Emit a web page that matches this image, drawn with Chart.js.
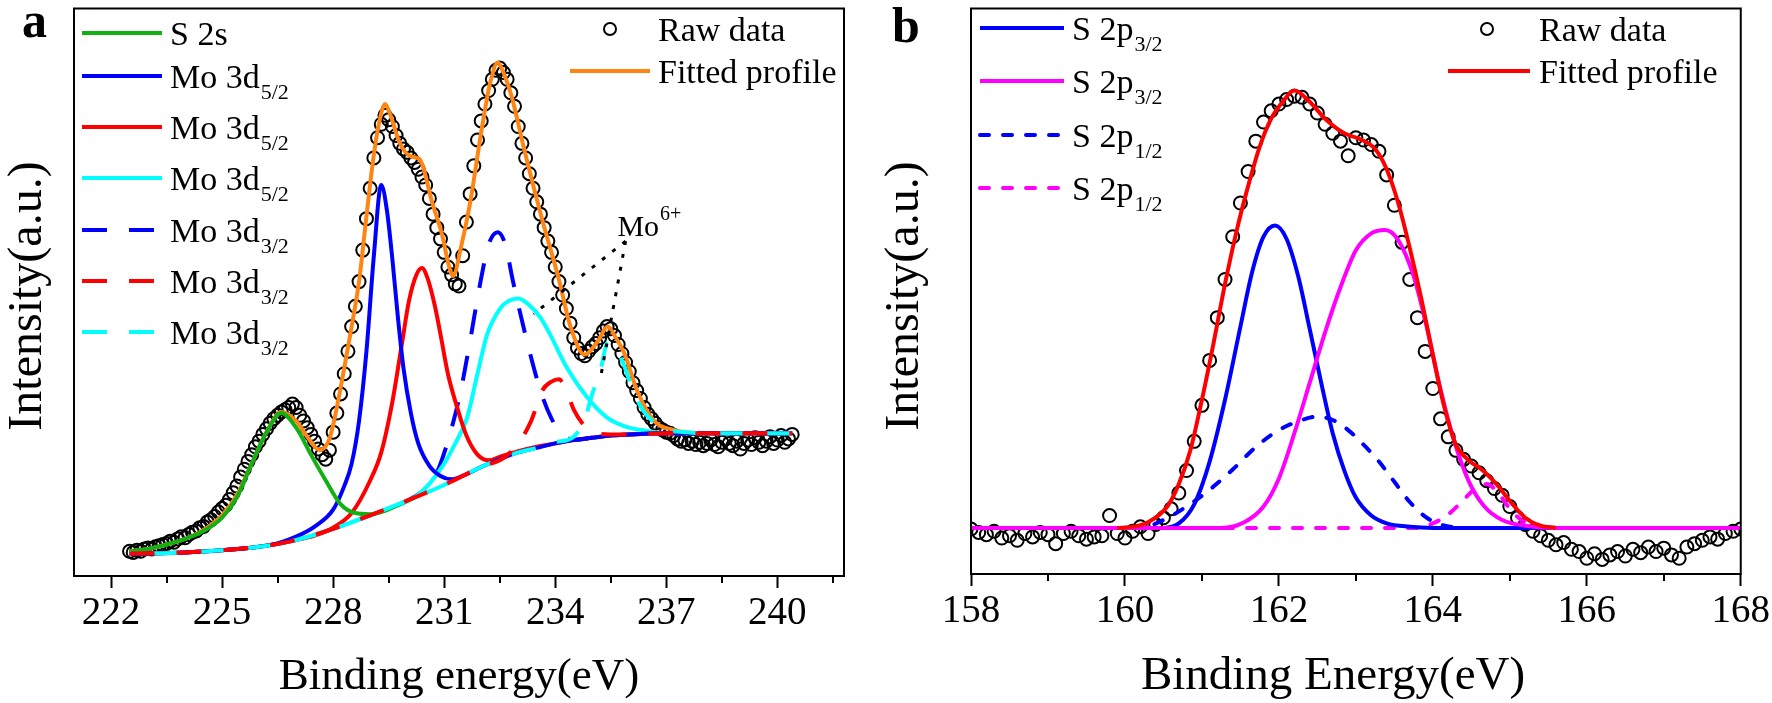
<!DOCTYPE html>
<html>
<head>
<meta charset="utf-8">
<script src="https://cdn.jsdelivr.net/npm/chart.js@4.4.1/dist/chart.umd.min.js"></script>
<style>
  html, body { margin: 0; padding: 0; background: #fff; }
  body { width: 1772px; height: 703px; position: relative; overflow: hidden; }
  canvas { position: absolute; top: 0; }
  #chartA { left: 0; }
  #chartB { left: 870px; }
</style>
</head>
<body>
<canvas id="chartA" width="870" height="703"></canvas>
<canvas id="chartB" width="902" height="703"></canvas>
<script>
const FONT = '"Liberation Serif", "Times New Roman", serif';

// ---------- panel a : Mo 3d / S 2s ----------
const tickA = [222, 225, 228, 231, 234, 237, 240];
const minorTickA = [223.5, 226.5, 229.5, 232.5, 235.5, 238.5, 241.5];
const xTitleA = 'Binding energy(eV)';

const rawAEnergy = [
  222.5,222.6,222.7,222.8,222.9,223.0,223.1,223.2,223.3,223.4,
  223.5,223.6,223.7,223.8,223.9,224.0,224.1,224.2,224.3,224.4,
  224.5,224.6,224.7,224.8,224.9,225.0,225.1,225.2,225.3,225.4,
  225.5,225.6,225.7,225.8,225.9,226.0,226.1,226.2,226.3,226.4,
  226.5,226.6,226.7,226.8,226.9,227.0,227.1,227.2,227.3,227.4,
  227.5,227.6,227.7,227.8,227.9,228.0,228.1,228.2,228.3,228.4,
  228.5,228.6,228.7,228.8,228.9,229.0,229.1,229.2,229.3,229.4,
  229.5,229.6,229.7,229.8,229.9,230.0,230.1,230.2,230.3,230.4,
  230.5,230.6,230.7,230.8,230.9,231.0,231.1,231.2,231.3,231.4,
  231.5,231.6,231.7,231.8,231.9,232.0,232.1,232.2,232.3,232.4,
  232.5,232.6,232.7,232.8,232.9,233.0,233.1,233.2,233.3,233.4,
  233.5,233.6,233.7,233.8,233.9,234.0,234.1,234.2,234.3,234.4,
  234.5,234.6,234.7,234.8,234.9,235.0,235.1,235.2,235.3,235.4,
  235.5,235.6,235.7,235.8,235.9,236.0,236.1,236.2,236.3,236.4,
  236.5,236.6,236.7,236.8,236.9,237.0,237.1,237.2,237.3,237.4,
  237.5,237.6,237.7,237.8,237.9,238.0,238.1,238.2,238.3,238.4,
  238.5,238.6,238.7,238.8,238.9,239.0,239.1,239.2,239.3,239.4,
  239.5,239.6,239.7,239.8,239.9,240.0,240.1,240.2,240.3,240.4
];
const rawACounts = [
  22,21,23,22,24,25,24,26,27,28,
  29,31,30,33,35,34,37,39,40,43,
  44,48,50,53,57,60,63,68,74,80,
  88,95,102,108,115,120,126,131,136,140,
  143,146,148,150,153,150,143,138,132,126,
  120,113,108,104,112,128,145,162,180,200,
  222,240,262,290,318,345,372,390,402,410,
  406,400,392,385,380,377,372,368,362,355,
  348,336,322,310,300,288,275,268,260,258,
  285,315,340,365,388,405,420,432,442,450,
  452,448,442,430,418,400,385,372,358,345,
  333,322,310,298,288,275,262,250,238,225,
  212,203,198,196,200,204,207,212,218,222,
  220,214,206,198,190,182,172,165,158,150,
  144,140,136,132,130,128,127,125,122,120,
  121,118,120,117,119,116,118,121,117,115,
  119,122,118,116,120,113,118,121,117,123,
  119,116,120,124,118,121,125,119,122,126
];

const fitA = [[222.5,22],[223,24],[223.5,28],[224,33],[224.5,41],[225,54],[225.4,72],[225.8,100],[226.2,128],[226.6,146],[227.0,138],[227.3,124],[227.64,112],[227.9,122],[228.1,150],[228.3,185],[228.5,222],[228.7,262],[228.9,320],[229.1,375],[229.3,412],[229.4,420],[229.55,410],[229.79,386],[230.06,374],[230.33,371],[230.42,365],[230.67,333],[230.94,304],[231.12,277],[231.24,267],[231.45,292],[231.7,332],[232.03,401],[232.25,440],[232.45,457],[232.6,448],[232.82,427],[233.18,377],[233.64,318],[234.09,265],[234.42,221],[234.79,197],[235.15,209],[235.42,222],[235.6,214],[235.88,197],[236.21,165],[236.67,138],[237.2,130],[238,127],[240.4,127]];
const s2sA = [[222.5,22],[223,24],[223.5,28],[224,33],[224.5,40],[225,52],[225.4,70],[225.8,100],[226.2,128],[226.6,145],[227.0,132],[227.4,108],[227.8,85],[228.2,64],[228.6,56],[229.0,55],[229.4,58],[229.8,64],[230.2,70]];
const mo52BlueA = [[222.5,20],[224,21],[225,23],[226,26],[226.5,29],[227,35],[227.5,44],[228,59],[228.3,80],[228.5,100],[228.7,138],[228.9,200],[229.1,285],[229.3,348],[229.45,326],[229.6,282],[229.75,230],[229.9,185],[230.1,145],[230.3,118],[230.6,98],[230.9,89],[231.2,86],[231.5,89],[232,97],[232.5,104],[233,110],[233.5,114],[234,118],[234.5,121],[235,123],[235.5,125],[236,126],[237,127],[240.4,127]];
const mo52RedA = [[222.5,20],[224,21],[225,23],[226,26],[227,32],[227.5,36],[228,43],[228.5,56],[229.0,85],[229.3,110],[229.6,155],[229.85,205],[230.05,245],[230.25,268],[230.4,274],[230.55,265],[230.75,240],[230.9,215],[231.1,180],[231.35,150],[231.6,125],[231.9,108],[232.2,103],[232.5,106],[233,111],[233.5,115],[234,118],[234.5,121],[235,123],[235.5,125],[236,126],[237,127],[240.4,127]];
const mo52CyanA = [[222.5,20],[224,21],[225,23],[226,26],[227,32],[228,42],[229,54],[229.6,61],[230.2,70],[230.6,82],[231.0,100],[231.3,118],[231.62,141],[231.9,180],[232.16,215],[232.51,238],[232.75,245],[233.0,247],[233.3,241],[233.6,230],[233.86,215],[234.32,185],[234.86,159],[235.4,141],[235.9,133],[236.5,129],[237,127],[240.4,127]];
const mo32BlueA = [[222.5,20],[224,21],[225,23],[226,26],[227,32],[228,42],[229,54],[229.5,60],[230,67],[230.5,78],[230.8,92],[231.1,120],[231.43,162],[231.65,200],[231.97,260],[232.2,295],[232.45,306],[232.65,295],[232.86,262],[233.19,215],[233.6,165],[233.9,140],[234.2,126],[234.5,121],[235,123],[235.5,125],[236,126],[237,127],[240.4,127]];
const mo32RedA = [[222.5,20],[224,21],[225,23],[226,26],[227,32],[228,42],[229,54],[230,67],[231,81],[232,97],[232.6,105],[233.0,118],[233.35,138],[233.65,165],[233.9,173],[234.1,175],[234.3,165],[234.5,148],[234.73,136],[235.0,128],[235.5,126],[236,126],[237,127],[240.4,127]];
const mo32CyanA = [[222.5,20],[224,21],[225,23],[226,26],[227,32],[228,42],[229,54],[230,67],[231,81],[232,97],[233,110],[233.5,114],[234.0,119],[234.5,124],[234.8,140],[235.0,162],[235.22,183],[235.42,208],[235.57,206],[235.84,189],[236.1,165],[236.38,147],[236.7,136],[237.0,130],[237.5,128],[238,127],[240.4,127]];
const mo6Pointer1 = [[235.9,298],[233.41,233]];
const mo6Pointer2 = [[235.9,298],[235.22,176]];

// ---------- panel b : S 2p ----------
const tickB = [158, 160, 162, 164, 166, 168];
const minorTickB = [159, 161, 163, 165, 167];
const xTitleB = 'Binding Energy(eV)';
const yTitle = 'Intensity(a.u.)';

const rawBEnergy = [
  158.0,158.1,158.2,158.3,158.4,158.5,158.6,158.7,158.8,158.9,
  159.0,159.1,159.2,159.3,159.4,159.5,159.6,159.7,159.8,159.9,
  160.0,160.1,160.2,160.3,160.4,160.5,160.6,160.7,160.8,160.9,
  161.0,161.1,161.2,161.3,161.4,161.5,161.6,161.7,161.8,161.9,
  162.0,162.1,162.2,162.3,162.4,162.5,162.6,162.7,162.8,162.9,
  163.0,163.1,163.2,163.3,163.4,163.5,163.6,163.7,163.8,163.9,
  164.0,164.1,164.2,164.3,164.4,164.5,164.6,164.7,164.8,164.9,
  165.0,165.1,165.2,165.3,165.4,165.5,165.6,165.7,165.8,165.9,
  166.0,166.1,166.2,166.3,166.4,166.5,166.6,166.7,166.8,166.9,
  167.0,167.1,167.2,167.3,167.4,167.5,167.6,167.7,167.8,167.9,
  168.0
];
const rawBCounts = [
  40,37,35,38,32,34,30,36,33,37,
  35,27,36,38,34,31,33,34,52,36,
  32,38,42,36,44,50,58,72,92,118,
  150,190,228,262,300,330,358,385,402,412,
  418,422,425,424,418,410,400,392,385,372,
  388,386,382,376,355,328,295,262,228,198,
  165,138,122,110,102,96,90,83,76,70,
  60,50,44,38,34,30,26,28,22,20,
  14,18,13,17,20,16,22,19,24,20,
  23,17,14,24,27,30,33,31,36,38,
  40
];
const fitB = [[159.9,41],[160.1,42],[160.3,46],[160.55,60],[160.7,80],[160.85,110],[161.0,155],[161.15,205],[161.3,258],[161.45,305],[161.6,345],[161.75,380],[161.9,405],[162.05,420],[162.2,430],[162.4,420],[162.6,405],[162.85,392],[163.05,387],[163.25,378],[163.4,360],[163.55,330],[163.7,290],[163.85,245],[164.0,195],[164.15,148],[164.3,115],[164.45,102],[164.65,92],[164.85,78],[165.0,65],[165.2,50],[165.4,43],[165.6,41]];
const p32BlueB = [[158,41],[160.5,41],[160.7,45],[160.9,62],[161.1,100],[161.3,155],[161.5,220],[161.65,268],[161.8,300],[161.95,310],[162.1,298],[162.25,265],[162.4,218],[162.55,170],[162.7,125],[162.85,92],[163.0,68],[163.2,52],[163.4,45],[163.7,42],[164,41],[168,41]];
const p32MagentaB = [[158,41],[161.25,41],[161.55,46],[161.8,60],[162.0,85],[162.2,125],[162.4,170],[162.6,215],[162.8,255],[163.0,288],[163.2,303],[163.38,306],[163.55,297],[163.75,265],[163.92,220],[164.08,170],[164.27,120],[164.47,82],[164.67,60],[164.9,48],[165.2,43],[165.6,41],[168,41]];
const p12BlueB = [[158,41],[160.2,41],[160.5,48],[160.8,60],[161.1,75],[161.4,93],[161.7,113],[162.0,128],[162.3,137],[162.5,140],[162.7,137],[162.9,128],[163.1,115],[163.3,100],[163.5,82],[163.7,64],[163.9,51],[164.1,44],[164.4,41],[168,41]];
const p12MagentaB = [[158,41],[163.8,41],[164.0,45],[164.2,53],[164.4,66],[164.55,76],[164.7,80],[164.85,72],[165.0,58],[165.15,48],[165.35,42],[165.6,41],[168,41]];

// ---------- helpers ----------
function zip(xs, ys) {
  return xs.map((x, i) => ({x: x, y: ys[i]}));
}

function curve(label, data, color, order, dash, cap, dashOffset) {
  return {
    label: label, data: data, showLine: true, borderColor: color, borderWidth: 4,
    pointRadius: 0, borderDash: dash || [], borderDashOffset: dashOffset || 0,
    borderCapStyle: cap || 'butt', cubicInterpolationMode: 'monotone', order: order
  };
}

function pointer(data) {
  return Object.assign(curve('', data, '#000', 0, [4, 9]), {borderWidth: 3, cubicInterpolationMode: 'default'});
}

function rawSet(label, data) {
  return {
    label: label, data: data, showLine: false, pointStyle: 'circle', pointRadius: 6.5,
    pointBorderWidth: 2, pointBorderColor: '#000', pointBackgroundColor: 'rgba(0,0,0,0)', order: 20
  };
}

function drawRich(ctx, text, x, y, size, shift, smallScale) {
  const parts = text.split(/([_^])/);
  let cx = x;
  ctx.font = size + 'px ' + FONT;
  ctx.fillText(parts[0], cx, y);
  cx += ctx.measureText(parts[0]).width + 1;
  for (let i = 1; i < parts.length; i += 2) {
    const up = parts[i] === '^';
    ctx.font = Math.round(size * smallScale) + 'px ' + FONT;
    ctx.fillText(parts[i + 1], cx, up ? y - shift : y + shift);
    cx += ctx.measureText(parts[i + 1]).width;
  }
}

// frame, minor ticks, axis titles, legend boxes, panel letter, notes
const decor = {
  id: 'decor',
  afterDraw(chart, args, o) {
    const {ctx, chartArea: a, scales} = chart;
    ctx.save();
    ctx.strokeStyle = '#000';
    ctx.fillStyle = '#000';
    ctx.lineWidth = 2;
    ctx.setLineDash([]);
    ctx.strokeRect(a.left, a.top, a.right - a.left, a.bottom - a.top);

    ctx.beginPath();
    o.minorTicks.forEach(v => {
      const px = Math.round(scales.x.getPixelForValue(v));
      ctx.moveTo(px, a.bottom);
      ctx.lineTo(px, a.bottom + 7);
    });
    ctx.stroke();

    // axis titles
    ctx.textAlign = 'center';
    ctx.textBaseline = 'middle';
    ctx.font = o.xTitle.size + 'px ' + FONT;
    ctx.fillText(o.xTitle.text, o.xTitle.x, o.xTitle.y);
    ctx.save();
    ctx.translate(o.yTitle.x, o.yTitle.y);
    ctx.rotate(-Math.PI / 2);
    ctx.font = o.yTitle.size + 'px ' + FONT;
    ctx.fillText(o.yTitle.text, 0, 0);
    ctx.restore();

    ctx.textBaseline = 'alphabetic';
    ctx.textAlign = 'left';
    o.legends.forEach(box => {
      box.rows.forEach(([idx, y]) => {
        const ds = chart.data.datasets[idx];
        if (ds.showLine === false) {
          ctx.beginPath();
          ctx.lineWidth = 2;
          ctx.setLineDash([]);
          ctx.arc(box.mark, y, 6, 0, Math.PI * 2);
          ctx.stroke();
        } else {
          ctx.beginPath();
          ctx.strokeStyle = ds.borderColor;
          ctx.lineWidth = 4;
          ctx.lineCap = ds.borderCapStyle;
          ctx.setLineDash(ds.borderDash);
          ctx.moveTo(box.x0, y);
          ctx.lineTo(box.x1, y);
          ctx.stroke();
          ctx.strokeStyle = '#000';
          ctx.lineCap = 'butt';
        }
        ctx.setLineDash([]);
        drawRich(ctx, ds.label, box.tx, y + 12, 34, 11, 0.64);
      });
    });

    (o.notes || []).forEach(n => {
      const px = scales.x.getPixelForValue(n.x);
      const py = scales.y.getPixelForValue(n.y);
      drawRich(ctx, n.text, px, py, 30, 16, 0.67);
    });

    ctx.font = 'bold 50px ' + FONT;
    ctx.fillText(o.letter.text, o.letter.x, o.letter.y);
    ctx.restore();
  }
};

function axes(xMin, xMax, ticks, yMax, yWidth, xHeight) {
  return {
    x: {
      type: 'linear', min: xMin, max: xMax,
      afterBuildTicks: s => { s.ticks = ticks.map(v => ({value: v})); },
      afterFit: s => { s.height = xHeight; },
      grid: {display: true, drawOnChartArea: false, drawTicks: true, tickLength: 12, tickWidth: 2, tickColor: '#000'},
      border: {display: false},
      ticks: {color: '#000', font: {family: FONT, size: 39}, padding: 2, maxRotation: 0, autoSkip: false}
    },
    y: {
      type: 'linear', min: 0, max: yMax,
      afterFit: s => { s.width = yWidth; },
      grid: {display: false},
      border: {display: false},
      ticks: {display: false}
    }
  };
}

const dashA = [25, 22];
const dashB = [9, 14];

const chartA = new Chart(document.getElementById('chartA'), {
  type: 'scatter',
  data: {
    datasets: [
      rawSet('Raw data', zip(rawAEnergy, rawACounts)),            // 0
      curve('S 2s', s2sA, '#12b012', 3),                          // 1
      curve('Mo 3d_5/2', mo52BlueA, '#0000ff', 4),                // 2
      curve('Mo 3d_5/2', mo52RedA, '#ff0000', 5),                 // 3
      curve('Mo 3d_5/2', mo52CyanA, '#00ffff', 6),                // 4
      curve('Mo 3d_3/2', mo32BlueA, '#0000ff', 7, dashA),         // 5
      curve('Mo 3d_3/2', mo32RedA, '#ff0000', 1, dashA),          // 6
      curve('Mo 3d_3/2', mo32CyanA, '#00ffff', 2, dashA, 'butt', 23.5), // 7
      curve('Fitted profile', fitA, '#ff8412', 9),                // 8
      pointer(mo6Pointer1),
      pointer(mo6Pointer2)
    ]
  },
  options: {
    responsive: false,
    animation: false,
    layout: {padding: {left: 0, right: 26, top: 4, bottom: 0}},
    scales: axes(221, 241.8, tickA, 505, 74, 127),
    plugins: {
      legend: {display: false},
      tooltip: {enabled: false},
      decor: {
        minorTicks: minorTickA,
        xTitle: {text: xTitleA, x: 459, y: 677, size: 45},
        yTitle: {text: yTitle, x: 28, y: 296, size: 48},
        legends: [
          {x0: 82, x1: 162, tx: 170, rows: [[1, 33], [2, 76], [3, 127], [4, 178], [5, 230], [6, 281], [7, 332]]},
          {x0: 570, x1: 650, tx: 658, mark: 610, rows: [[0, 29], [8, 71]]}
        ],
        notes: [{x: 235.68, y: 303, text: 'Mo^6+'}],
        letter: {text: 'a', x: 22, y: 37}
      }
    }
  },
  plugins: [decor]
});

const chartB = new Chart(document.getElementById('chartB'), {
  type: 'scatter',
  data: {
    datasets: [
      rawSet('Raw data', zip(rawBEnergy, rawBCounts)),            // 0
      curve('S 2p_3/2', p32BlueB, '#0000ff', 3),                  // 1
      curve('S 2p_3/2', p32MagentaB, '#ff00ff', 2),               // 2
      curve('S 2p_1/2', p12BlueB, '#0000ff', 5, dashB, 'round'),  // 3
      curve('S 2p_1/2', p12MagentaB, '#ff00ff', 4, dashB, 'round'), // 4
      curve('Fitted profile', fitB, '#ff0000', 1)                 // 5
    ]
  },
  options: {
    responsive: false,
    animation: false,
    layout: {padding: {left: 0, right: 29, top: 5, bottom: 0}},
    scales: axes(158, 168, tickB, 503, 101, 129),
    plugins: {
      legend: {display: false},
      tooltip: {enabled: false},
      decor: {
        minorTicks: minorTickB,
        xTitle: {text: xTitleB, x: 463, y: 677, size: 47},
        yTitle: {text: yTitle, x: 35, y: 296, size: 48},
        legends: [
          {x0: 110, x1: 194, tx: 202, rows: [[1, 28], [2, 81], [3, 135], [4, 188]]},
          {x0: 578, x1: 660, tx: 669, mark: 617, rows: [[0, 29], [5, 71]]}
        ],
        letter: {text: 'b', x: 22, y: 42}
      }
    }
  },
  plugins: [decor]
});
</script>
</body>
</html>
